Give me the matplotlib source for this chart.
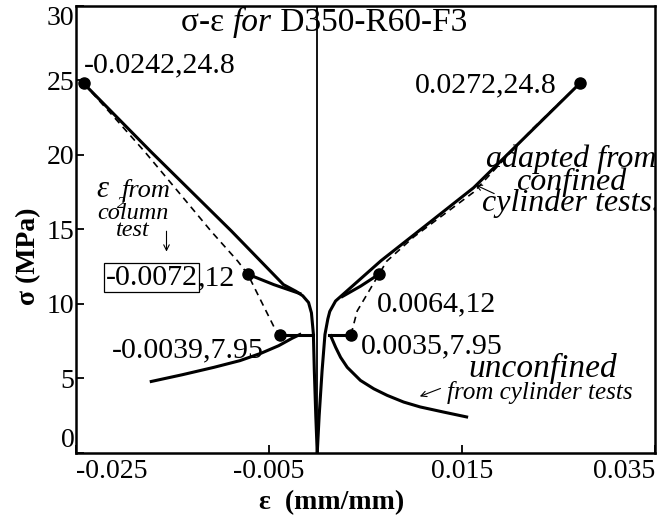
import matplotlib
matplotlib.use("Agg")
import matplotlib.pyplot as plt

plt.rcParams['font.family'] = ['Liberation Serif', 'DejaVu Serif']

# key points (strain, stress MPa)
peak_left = (-0.0242, 24.8)
peak_right = (0.0272, 24.8)
col_left = (-0.0072, 12.0)
col_right = (0.0064, 12.0)
unc_left = (-0.0039, 7.95)
unc_right = (0.0035, 7.95)

# confined curves (adapted from cylinder tests)
conf_left_x = [-0.0242, -0.0172, -0.0089, -0.0035, -0.0022, -0.0015, -0.0009, -0.0006, -0.0004, -0.0003, -0.00015, 0.0]
conf_left_y = [24.8, 20.2, 14.9, 11.3, 10.85, 10.55, 10.1, 9.4, 8.0, 5.5, 2.5, 0.0]
conf_right_x = [0.0, 0.0002, 0.0005, 0.0008, 0.0011, 0.0013, 0.0019, 0.0066, 0.0117, 0.0162, 0.0272]
conf_right_y = [0.0, 2.5, 5.5, 7.95, 9.0, 9.5, 10.2, 12.9, 15.5, 17.8, 24.8]

# branches to the column-test points
colbr_left_x = [-0.0072, -0.0045, -0.0018]
colbr_left_y = [12.0, 11.3, 10.7]
colbr_right_x = [0.0064, 0.0045, 0.0026]
colbr_right_y = [12.0, 11.2, 10.5]

# dashed: eps_2 from column test
dash_left_x = [-0.0242, -0.0210, -0.01785, -0.0144, -0.01098, -0.00823, -0.0072, -0.00582, -0.00445, -0.0039]
dash_left_y = [24.8, 22.5, 20.2, 17.53, 14.87, 12.87, 12.0, 10.2, 8.42, 7.95]
dash_right_x = [0.0035, 0.00414, 0.0064, 0.0072, 0.0100, 0.0162, 0.0223, 0.0272]
dash_right_y = [7.95, 9.53, 12.0, 12.87, 14.5, 17.5, 21.75, 24.8]

# plateaus at the unconfined peak
plat_left_x = [-0.0039, -0.0004]
plat_right_x = [0.0012, 0.0035]
plat_y = [7.95, 7.95]

# unconfined (from cylinder tests)
unc_left_x = [-0.0172, -0.0140, -0.0107, -0.0080, -0.0058, -0.0040, -0.0026, -0.0018]
unc_left_y = [4.8, 5.25, 5.75, 6.2, 6.7, 7.2, 7.7, 7.95]
unc_right_x = [0.00139, 0.00191, 0.00242, 0.00311, 0.00448, 0.00586, 0.00724, 0.00895, 0.01067, 0.01307, 0.01548]
unc_right_y = [7.87, 7.09, 6.42, 5.75, 4.87, 4.31, 3.87, 3.42, 3.09, 2.75, 2.42]

xticks = [-0.025, -0.005, 0.015, 0.035]
xticklabels = ['-0.025', '-0.005', '0.015', '0.035']
yticks = [0, 5, 10, 15, 20, 25, 30]

fig = plt.figure(figsize=(6.59, 5.16), dpi=100)
ax = fig.add_axes([0.1153, 0.1221, 0.8786, 0.8663])

lw = 2.2
ax.axvline(0, color='k', lw=1.3)
ax.plot(conf_left_x, conf_left_y, 'k-', lw=lw)
ax.plot(conf_right_x, conf_right_y, 'k-', lw=lw)
ax.plot(colbr_left_x, colbr_left_y, 'k-', lw=lw)
ax.plot(colbr_right_x, colbr_right_y, 'k-', lw=lw)
ax.plot(dash_left_x, dash_left_y, 'k--', lw=1.2, dashes=(4, 3))
ax.plot(dash_right_x, dash_right_y, 'k--', lw=1.2, dashes=(4, 3))
ax.plot(plat_left_x, plat_y, 'k-', lw=lw)
ax.plot(plat_right_x, plat_y, 'k-', lw=lw)
ax.plot(unc_left_x, unc_left_y, 'k-', lw=lw)
ax.plot(unc_right_x, unc_right_y, 'k-', lw=lw)

pts = [peak_left, peak_right, col_left, col_right, unc_left, unc_right]
ax.plot([p[0] for p in pts], [p[1] for p in pts], 'ko', ms=8)

ax.set_xlim(-0.025, 0.035)
ax.set_ylim(0, 30)
ax.set_xticks(xticks)
ax.set_xticklabels(xticklabels)
ax.set_yticks(yticks)
ax.tick_params(direction='in', length=6, width=1.3, labelsize=20, pad=4)
ax.tick_params(axis='y', pad=1)
for s in ax.spines.values():
    s.set_linewidth(1.8)

xl = ax.get_xticklabels()
xl[0].set_ha('left')
xl[-1].set_ha('right')
yl = ax.get_yticklabels()
yl[0].set_va('bottom')
yl[-1].set_va('top')

ax.set_xlabel('ε  (mm/mm)', fontsize=20, fontweight='bold')
ax.xaxis.set_label_coords(0.442, -0.082)
ax.set_ylabel('σ (MPa)', fontsize=20, fontweight='bold')
ax.yaxis.set_label_coords(-0.06, 0.44)

# title made of upright / italic pieces
t1 = ax.text(-0.01407, 28.85, 'σ-ε ', fontsize=24, va='center')
t2 = ax.annotate('for', xy=(1, 0), xycoords=t1, fontsize=24, style='italic', va='bottom')
ax.annotate(' D350-R60-F3', xy=(1, 0), xycoords=t2, fontsize=24, va='bottom')

# point labels
fs = 21.5
ax.text(-0.02418, 26.0, '-0.0242,24.8', fontsize=fs, va='center', ha='left')
ax.text(0.0248, 24.67, '0.0272,24.8', fontsize=fs, va='center', ha='right')
b = ax.text(-0.0219, 11.75, '-0.0072', fontsize=fs, va='center', ha='left',
            bbox=dict(boxstyle='square,pad=0.05', fc='none', ec='k', lw=0.9))
ax.annotate(',12', xy=(1, 0), xycoords=b, fontsize=fs, va='bottom')
ax.text(-0.0213, 6.87, '-0.0039,7.95', fontsize=fs, va='center', ha='left')
ax.text(0.0062, 10.0, '0.0064,12', fontsize=fs, va='center', ha='left')
ax.text(0.00448, 7.13, '0.0035,7.95', fontsize=fs, va='center', ha='left')

# curve descriptions
ax.text(0.02335, 5.67, 'unconfined', fontsize=24, style='italic', ha='center', va='center')
ax.text(0.02304, 4.07, 'from cylinder tests', fontsize=18, style='italic', ha='center', va='center')
ax.annotate('', xy=(0.01036, 3.73), xytext=(0.01304, 4.4),
            arrowprops=dict(arrowstyle='->', lw=0.8, color='k'))

for txt, yy in [('adapted from', 19.73), ('confined', 18.2), ('cylinder tests.', 16.73)]:
    ax.text(0.0263, yy, txt, fontsize=23, style='italic', ha='center', va='center', clip_on=True)
ax.annotate('', xy=(0.01613, 18.07), xytext=(0.0186, 17.33),
            arrowprops=dict(arrowstyle='->', lw=0.8, color='k'))

ax.text(-0.02284, 17.2, 'ε', fontsize=22, style='italic', va='baseline', ha='left')
ax.text(-0.02080, 16.45, '2', fontsize=12, style='italic', va='baseline', ha='left')
ax.text(-0.02026, 17.2, 'from', fontsize=19, style='italic', va='baseline', ha='left')
ax.text(-0.01912, 15.73, 'column', fontsize=17.5, style='italic', ha='center', va='baseline')
ax.text(-0.01912, 14.53, 'test', fontsize=17.5, style='italic', ha='center', va='baseline')
ax.annotate('', xy=(-0.01562, 13.33), xytext=(-0.01562, 15.07),
            arrowprops=dict(arrowstyle='->', lw=0.8, color='k'))

fig.savefig('out.png', dpi=100)
